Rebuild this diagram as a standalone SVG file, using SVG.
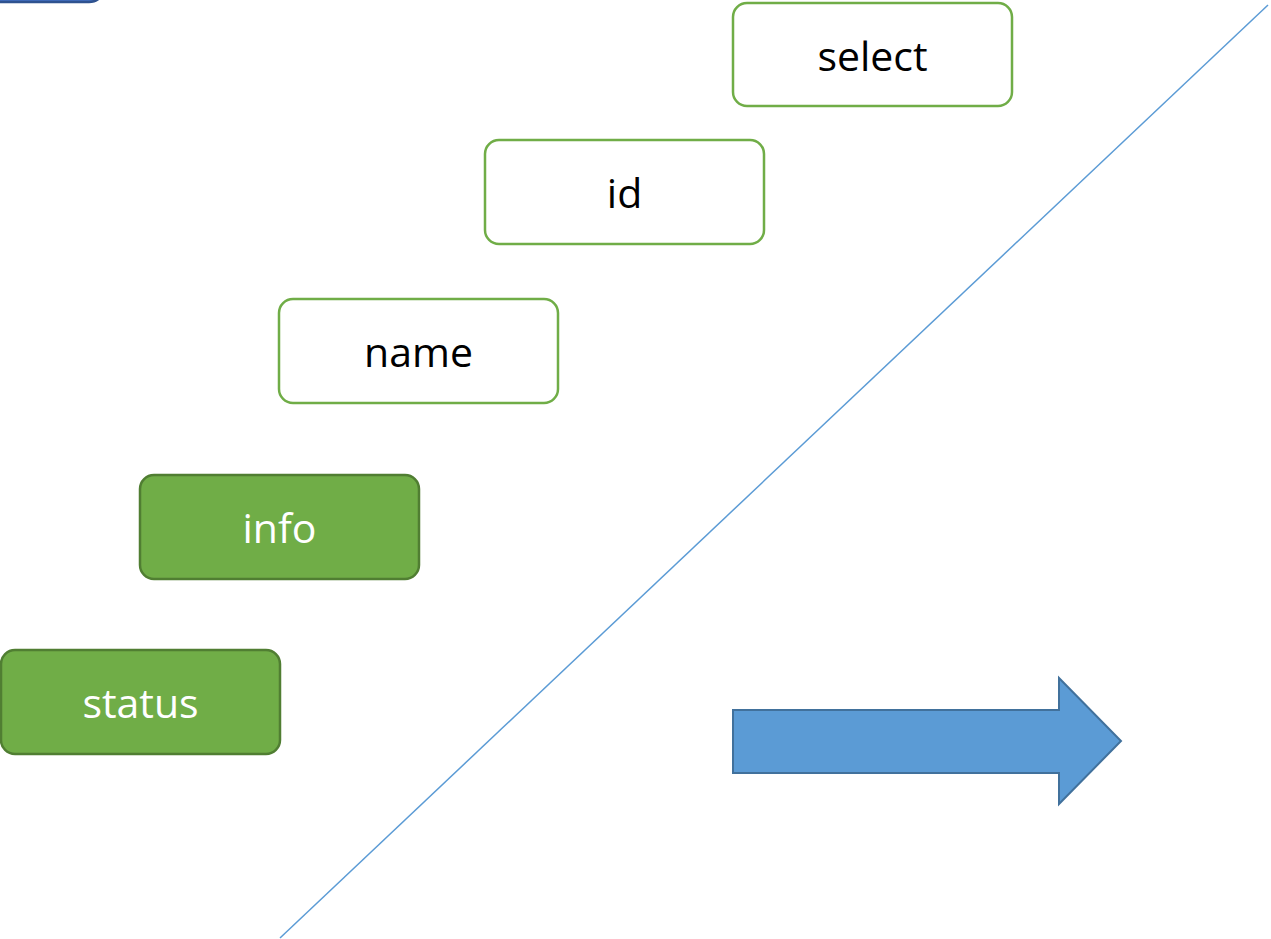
<svg xmlns="http://www.w3.org/2000/svg" width="1271" height="939" viewBox="0 0 1271 939">
<style>
.o rect{fill:#fff;stroke:#70ad47;stroke-width:2.5}
.f rect{fill:#70ad47;stroke:#507e32;stroke-width:2.5}
text{font-family:"Open Sans","Noto Sans",sans-serif;font-size:41px;text-anchor:middle;dominant-baseline:central}
.o text{fill:#000}
.f text{fill:#fff}
</style>
<rect width="1271" height="939" fill="#fff"/>
<g id="partial"><rect x="-60" y="-60" width="165" height="62" rx="16" fill="#4472c4" stroke="#2f528f" stroke-width="2.5"/></g>
<g id="connectors"><line x1="1268" y1="5" x2="280" y2="938" stroke="#5b9bd5" stroke-width="1.5"/></g>
<g id="select" class="o"><rect x="733" y="3" width="279" height="103" rx="14"/><text x="872.5" y="55">select</text></g>
<g id="id" class="o"><rect x="485" y="140" width="279" height="104" rx="14"/><text x="624.5" y="192">id</text></g>
<g id="name" class="o"><rect x="279" y="299" width="279" height="104" rx="14"/><text x="418.5" y="351">name</text></g>
<g id="info" class="f"><rect x="140" y="475" width="279" height="104" rx="14"/><text x="279.5" y="527">info</text></g>
<g id="status" class="f"><rect x="1" y="650" width="279" height="104" rx="14"/><text x="140.5" y="702">status</text></g>
<g id="arrow"><polygon points="733,710 1059,710 1059,678 1121,741 1059,804 1059,773 733,773" fill="#5b9bd5" stroke="#41719c" stroke-width="2"/></g>
</svg>
